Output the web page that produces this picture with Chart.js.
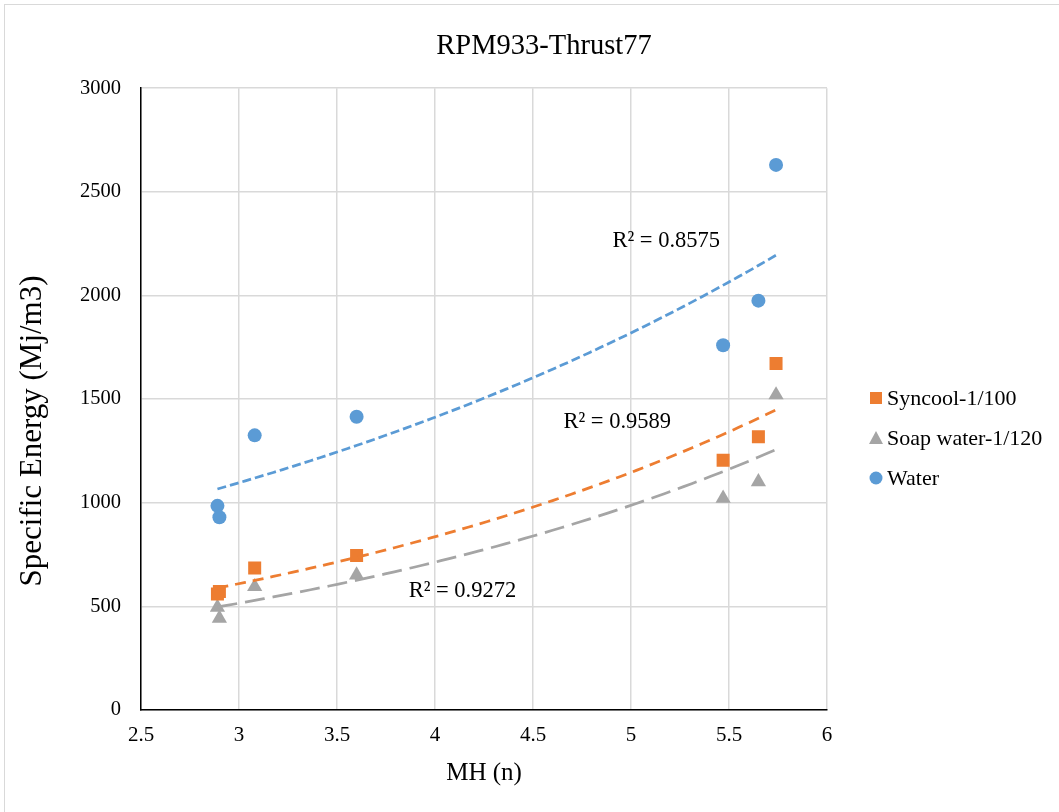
<!DOCTYPE html>
<html>
<head>
<meta charset="utf-8">
<title>RPM933-Thrust77</title>
<script src="https://cdn.jsdelivr.net/npm/chart.js@4.4.1/dist/chart.umd.min.js"></script>
<style>
    html, body { margin: 0; padding: 0; background: #fff; overflow: hidden; }
    #frame { position: absolute; left: 4px; top: 4px; width: 1100px; height: 900px; border: 1px solid #d9d9d9; }
    #wrap { position: absolute; left: 0; top: 0; width: 1059px; height: 812px; }
</style>
</head>
<body>
<div id="frame"></div>
<div id="wrap"><canvas id="chart"></canvas></div>
<script>
// Datos
const mhValues = [2.89, 2.90, 3.08, 3.60, 5.47, 5.65, 5.74];
const syncoolEnergy = [560, 572, 685, 745, 1205, 1318, 1672];
const soapEnergy = [495, 442, 595, 651, 1021, 1101, 1520];
const waterEnergy = [985, 930, 1325, 1415, 1760, 1975, 2630];
const seriesNames = ['Syncool-1/100', 'Soap water-1/120', 'Water'];
const r2Labels = ['R² = 0.9589', 'R² = 0.9272', 'R² = 0.8575'];
const yTitle = 'Specific Energy (Mj/m3)';

const COLORS = ['#ED7D31', '#A5A5A5', '#5B9BD5'];
const FONT = "'Liberation Serif', 'Times New Roman', serif";

// Ajuste exponencial (como la línea de tendencia de Excel): ln(y) = ln(a) + b·x
function expFit(xs, ys) {
    const n = xs.length;
    const ly = ys.map(v => Math.log(v));
    const mx = xs.reduce((s, v) => s + v, 0) / n;
    const my = ly.reduce((s, v) => s + v, 0) / n;
    let sxy = 0, sxx = 0;
    xs.forEach((x, i) => { sxy += (x - mx) * (ly[i] - my); sxx += (x - mx) * (x - mx); });
    const b = sxy / sxx;
    const a = Math.exp(my - b * mx);
    const lo = Math.min(...xs), hi = Math.max(...xs);
    const pts = [];
    for (let i = 0; i <= 60; i++) {
        const x = lo + (hi - lo) * i / 60;
        pts.push({ x: x, y: a * Math.exp(b * x) });
    }
    return pts;
}

const energies = [syncoolEnergy, soapEnergy, waterEnergy];
const pointStyles = ['rect', 'triangle', 'circle'];
const pointRadii = [9.2, 8.8, 7];
const dashes = [[11, 7], [20, 8], [9, 4]];
// posición de las etiquetas R² en unidades de datos
const r2Pos = [[4.93, 1390], [4.14, 575], [5.18, 2262]];

const datasets = [];
energies.forEach((ys, i) => {
    datasets.push({
        label: seriesNames[i],
        data: mhValues.map((x, j) => ({ x: x, y: ys[j] })),
        pointStyle: pointStyles[i],
        pointRadius: pointRadii[i],
        pointHoverRadius: pointRadii[i],
        backgroundColor: COLORS[i],
        borderColor: COLORS[i],
        borderWidth: 0,
        showLine: false,
        order: 2
    });
});
energies.forEach((ys, i) => {
    datasets.push({
        label: 'trend ' + seriesNames[i],
        data: expFit(mhValues, ys),
        showLine: true,
        pointRadius: 0,
        borderColor: COLORS[i],
        borderWidth: 2.75,
        borderDash: dashes[i],
        fill: false,
        order: 1
    });
});

// Título del eje Y, etiquetas R² y leyenda dibujadas sobre el lienzo
const extrasPlugin = {
    id: 'extras',
    afterDatasetsDraw(chart) {
        const { ctx, scales } = chart;
        ctx.save();
        ctx.fillStyle = '#000';
        ctx.textAlign = 'center';
        ctx.textBaseline = 'middle';

        ctx.save();
        ctx.font = '31px ' + FONT;
        ctx.translate(33, 431);
        ctx.rotate(-Math.PI / 2);
        ctx.fillText(yTitle, 0, 0);
        ctx.restore();

        ctx.font = '22.5px ' + FONT;
        r2Labels.forEach((t, i) => {
            ctx.fillText(t, scales.x.getPixelForValue(r2Pos[i][0]), scales.y.getPixelForValue(r2Pos[i][1]));
        });

        // leyenda
        const mx = 876, ty0 = 398, gap = 40;
        ctx.font = '22px ' + FONT;
        ctx.textAlign = 'left';
        seriesNames.forEach((name, i) => {
            const y = ty0 + i * gap;
            ctx.fillStyle = COLORS[i];
            ctx.beginPath();
            if (i === 0) {
                ctx.rect(mx - 6, y - 6, 12, 12);
            } else if (i === 1) {
                ctx.moveTo(mx, y - 7);
                ctx.lineTo(mx + 7, y + 6);
                ctx.lineTo(mx - 7, y + 6);
                ctx.closePath();
            } else {
                ctx.arc(mx, y, 6.5, 0, Math.PI * 2);
            }
            ctx.fill();
            ctx.fillStyle = '#000';
            ctx.fillText(name, mx + 11, y + 1);
        });
        ctx.restore();
    }
};

new Chart(document.getElementById('chart').getContext('2d'), {
    type: 'scatter',
    data: { datasets: datasets },
    plugins: [extrasPlugin],
    options: {
        responsive: true,
        maintainAspectRatio: false,
        animation: false,
        layout: { padding: { left: 29, right: 0, top: 10, bottom: 12 } },
        plugins: {
            legend: { display: false },
            tooltip: { enabled: false },
            title: {
                display: true,
                text: 'RPM933-Thrust77',
                color: '#000',
                font: { family: FONT, size: 28.5, weight: 'normal' },
                padding: { top: 19, bottom: 25 }
            }
        },
        scales: {
            x: {
                type: 'linear',
                min: 2.5,
                max: 6,
                afterFit: s => { s.height = 90; },
                ticks: { stepSize: 0.5, color: '#000', padding: 13, font: { family: FONT, size: 21 }, callback: v => String(v) },
                grid: { color: '#d9d9d9', lineWidth: 1.5, drawTicks: false },
                border: { color: '#000', width: 1.5 },
                title: { display: true, text: 'MH (n)', color: '#000', font: { family: FONT, size: 25 }, padding: { top: 0, bottom: 12 } }
            },
            y: {
                min: 0,
                max: 3000,
                afterFit: s => { s.width = 112; },
                ticks: { stepSize: 500, color: '#000', padding: 20, font: { family: FONT, size: 20.5 }, callback: v => String(v) },
                grid: { color: '#d9d9d9', lineWidth: 1.5, drawTicks: false },
                border: { color: '#000', width: 1.5 }
            },
            yr: {
                position: 'right',
                display: true,
                afterFit: s => { s.width = 232; },
                ticks: { display: false },
                grid: { display: false },
                border: { display: false }
            }
        }
    }
});
</script>
</body>
</html>
